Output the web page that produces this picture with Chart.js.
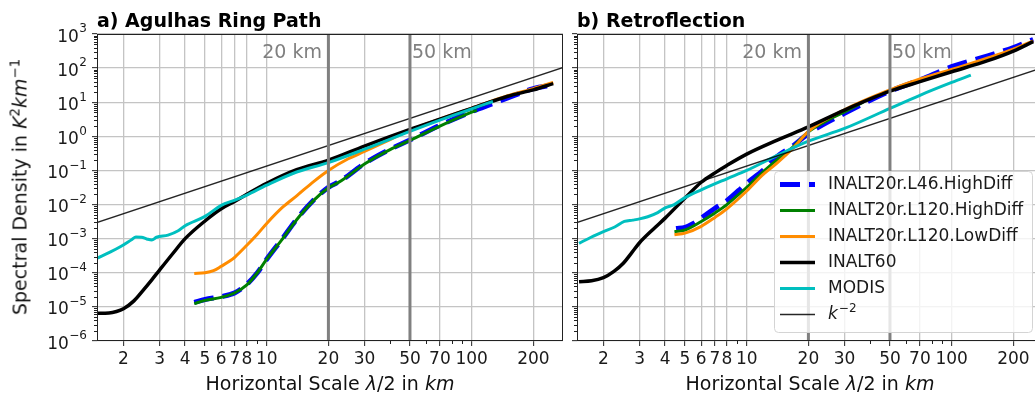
<!DOCTYPE html>
<html>
<head>
<meta charset="utf-8">
<script src="https://cdn.jsdelivr.net/npm/chart.js@4.4.1/dist/chart.umd.min.js"></script>
<style>
  html, body { margin: 0; padding: 0; width: 1035px; height: 398px; overflow: hidden; background: #fff; }
  body { position: relative; font-family: 'DejaVu Sans', sans-serif; color: #111; }
  canvas { position: absolute; top: 0; }
  .lbl { position: absolute; white-space: nowrap; font-size: 19px; line-height: 19px; }
  .title { font-weight: bold; color: #000; }
  .xl { transform: translateX(-50%); }
  .yl { left: 21px; top: 187px; transform: translate(-50%, -50%) rotate(-90deg); }
  .sp { font-size: 0.7em; position: relative; top: -0.55em; }
</style>
</head>
<body>
<canvas id="chartA" width="575" height="398" style="left:0"></canvas>
<canvas id="chartB" width="480" height="398" style="left:570px"></canvas>

<div class="lbl title" id="titleA">a) Agulhas Ring Path</div>
<div class="lbl title" id="titleB">b) Retroflection</div>
<div class="lbl xl" id="xlabA">Horizontal Scale <i>λ</i>/2 in <i>km</i></div>
<div class="lbl xl" id="xlabB">Horizontal Scale <i>λ</i>/2 in <i>km</i></div>
<div class="lbl yl">Spectral Density in <i>K</i><span class="sp">2</span><i>km</i><span class="sp">−1</span></div>

<script>
// axes
const xTicks = [2, 3, 4, 5, 6, 7, 8, 10, 20, 30, 50, 70, 100, 200];
const xMinor = [9, 40, 60, 80, 90];
const yExps = [-6, -5, -4, -3, -2, -1, 0, 1, 2, 3];
const markScales = [20, 50];
const markLabels = ['20 km', '50 km'];
const seriesNames = ['INALT20r.L46.HighDiff', 'INALT20r.L120.HighDiff', 'INALT20r.L120.LowDiff', 'INALT60', 'MODIS'];

// k^-2 reference line (same in both panels)
const refX = [1.4, 300];
const refY = [2.65e-3, 121];

// a) Agulhas Ring Path
const aL46X = [4.43, 5, 6, 7, 8, 9, 10, 12, 14, 17, 20, 23, 30, 40, 50, 70, 100, 127, 150, 200, 250];
const aL46Y = [1.35e-5, 1.65e-5, 2.0e-5, 2.6e-5, 4.6e-5, 1.0e-4, 2.5e-4, 1.05e-3, 3.7e-3, 0.0138, 0.032, 0.05, 0.16, 0.42, 0.78, 2.1, 5.3, 9.1, 13.3, 25, 32];
const aL120HX = [4.43, 5, 6, 7, 8, 9, 10, 12, 14, 17, 20, 23, 30, 40, 50, 70, 100, 106];
const aL120HY = [1.25e-5, 1.55e-5, 1.9e-5, 2.6e-5, 4.4e-5, 1.0e-4, 2.5e-4, 1.02e-3, 3.6e-3, 0.0135, 0.031, 0.049, 0.155, 0.41, 0.76, 2.0, 5.1, 5.8];
const aLowX = [4.43, 5, 5.5, 6, 6.6, 7, 8, 9, 10, 12, 14, 17, 20, 25, 30, 40, 50, 70, 100, 150, 200, 250];
const aLowY = [9.5e-5, 1.0e-4, 1.15e-4, 1.55e-4, 2.2e-4, 2.9e-4, 6.4e-4, 1.35e-3, 2.8e-3, 8.5e-3, 0.018, 0.048, 0.1, 0.22, 0.36, 0.8, 1.5, 3.2, 6.7, 15.5, 25, 38];
const aI60X = [1.49, 1.7, 1.85, 2, 2.25, 2.5, 2.75, 3, 3.5, 4, 5, 6, 7, 8, 10, 14, 20, 30, 50, 70, 100, 150, 200, 250];
const aI60Y = [6.5e-6, 6.6e-6, 7.3e-6, 8.8e-6, 1.5e-5, 3.1e-5, 6.2e-5, 1.2e-4, 3.8e-4, 1.0e-3, 3.3e-3, 7.5e-3, 0.0125, 0.02, 0.042, 0.105, 0.2, 0.52, 1.6, 3.2, 6.6, 15, 23, 35];
const aModX = [1.49, 1.73, 1.93, 2.2, 2.3, 2.45, 2.6, 2.75, 2.9, 3.3, 3.7, 4, 5, 6, 7, 8, 10, 14, 20, 30, 50, 70, 100, 127];
const aModY = [2.7e-4, 4.1e-4, 5.8e-4, 9.5e-4, 1.12e-3, 1.1e-3, 9.8e-4, 9.1e-4, 1.1e-3, 1.27e-3, 1.7e-3, 2.4e-3, 4.5e-3, 9.5e-3, 0.0135, 0.019, 0.037, 0.09, 0.17, 0.42, 1.4, 3.0, 6.4, 10.5];

// b) Retroflection
const bL46X = [4.52, 5, 5.5, 6, 7, 8, 10, 12, 14, 17, 20, 30, 50, 70, 100, 150, 200, 250];
const bL46Y = [2.0e-3, 2.15e-3, 2.8e-3, 4.0e-3, 7.8e-3, 0.013, 0.042, 0.1, 0.25, 0.55, 1.2, 4.7, 21, 45, 110, 230, 400, 690];
const bL120HX = [4.44, 5, 6, 7, 8, 10, 12, 14, 17, 20, 25, 30, 37];
const bL120HY = [1.6e-3, 1.8e-3, 3.2e-3, 5.7e-3, 0.01, 0.032, 0.09, 0.2, 0.52, 1.35, 3.0, 5.2, 10];
const bLowX = [4.44, 5, 6, 7, 8, 10, 12, 14, 17, 20, 30, 50, 70, 100, 150, 200, 250];
const bLowY = [1.3e-3, 1.45e-3, 2.3e-3, 4.2e-3, 7.5e-3, 0.025, 0.075, 0.16, 0.48, 1.4, 6.0, 23, 48, 91, 200, 360, 630];
const bI60X = [1.52, 1.75, 2, 2.25, 2.5, 2.75, 3, 3.5, 4, 5, 6, 7, 8, 10, 14, 20, 30, 50, 70, 100, 150, 200, 250];
const bI60Y = [5.5e-5, 5.8e-5, 7.2e-5, 1.1e-4, 1.9e-4, 3.9e-4, 7.6e-4, 1.9e-3, 4.0e-3, 0.0155, 0.045, 0.085, 0.14, 0.3, 0.76, 1.9, 5.9, 21, 40, 78, 165, 316, 600];
const bModX = [1.52, 1.74, 2, 2.27, 2.53, 2.78, 3, 3.29, 3.68, 4, 4.43, 5, 6, 8, 10, 14, 20, 30, 50, 70, 100, 124];
const bModY = [7.3e-4, 1.1e-3, 1.6e-3, 2.2e-3, 3.2e-3, 3.5e-3, 3.8e-3, 4.4e-3, 5.8e-3, 8.0e-3, 0.01, 0.016, 0.027, 0.057, 0.1, 0.27, 0.72, 1.7, 6.6, 16, 38, 62];

const FONT = 'DejaVu Sans';
const INK = '#1a1a1a';

function pts(xs, ys) {
  return xs.map((x, i) => ({ x: x, y: ys[i] }));
}

function series(label, xs, ys, color, width, order, dash) {
  return {
    label: label, data: pts(xs, ys), borderColor: color, borderWidth: width,
    borderDash: dash || [], order: order, fill: false, pointRadius: 0,
    cubicInterpolationMode: 'monotone'
  };
}

function buildDatasets(p) {
  const sets = [
    series(seriesNames[0], p.l46x, p.l46y, '#0000ff', 5, 7, [20, 9]),
    series(seriesNames[1], p.l120hx, p.l120hy, '#008000', 3, 6),
    series(seriesNames[2], p.lowx, p.lowy, '#ff8c00', 3, 5),
    series(seriesNames[3], p.i60x, p.i60y, '#000000', 3.5, 4),
    series(seriesNames[4], p.modx, p.mody, '#00bfbf', 3, 3),
    { label: 'k^-2', data: pts(refX, refY), borderColor: 'rgba(0,0,0,0.85)', borderWidth: 1.5, order: 2, tension: 0, pointRadius: 0 }
  ];
  markScales.forEach(v => {
    sets.push({ label: '', data: [{ x: v, y: 1e-7 }, { x: v, y: 1e4 }], borderColor: '#808080', borderWidth: 3, order: 1, tension: 0, pointRadius: 0 });
  });
  return sets;
}

// frame, minor ticks and the "20 km" / "50 km" marks
const framePlugin = {
  id: 'frame',
  afterDatasetsDraw(chart) {
    const { ctx, chartArea: a, scales: { x, y } } = chart;
    ctx.save();
    ctx.fillStyle = '#808080';
    ctx.font = '19px "' + FONT + '"';
    ctx.textBaseline = 'alphabetic';
    markScales.forEach((v, i) => {
      const px = x.getPixelForValue(v);
      if (i === 0) { ctx.textAlign = 'right'; ctx.fillText(markLabels[i], px - 6.5, 58); }
      else { ctx.textAlign = 'left'; ctx.fillText(markLabels[i], px + 2, 58); }
    });
    ctx.strokeStyle = '#222';
    ctx.lineWidth = 1;
    ctx.strokeRect(a.left + 0.5, a.top + 0.5, a.right - a.left - 1, a.bottom - a.top - 1);
    ctx.beginPath();
    xMinor.forEach(v => {
      const px = Math.round(x.getPixelForValue(v)) + 0.5;
      ctx.moveTo(px, a.bottom); ctx.lineTo(px, a.bottom + 3);
    });
    for (let e = -6; e < 3; e++) {
      for (let m = 2; m < 10; m++) {
        const py = Math.round(y.getPixelForValue(m * Math.pow(10, e))) + 0.5;
        ctx.moveTo(a.left, py); ctx.lineTo(a.left - 3, py);
      }
    }
    ctx.stroke();
    ctx.restore();
  }
};

// y tick labels as 10^n
const yLabelPlugin = {
  id: 'yLabels',
  afterDraw(chart) {
    const { ctx, chartArea: a, scales: { y } } = chart;
    const right = a.left - 10;
    ctx.save();
    ctx.fillStyle = INK;
    ctx.textAlign = 'right';
    ctx.textBaseline = 'alphabetic';
    yExps.forEach(e => {
      const py = y.getPixelForValue(Math.pow(10, e));
      const sup = e < 0 ? '\u2212' + (-e) : String(e);
      ctx.font = '12px "' + FONT + '"';
      const w = ctx.measureText(sup).width;
      ctx.fillText(sup, right, py - 1.7);
      ctx.font = '17px "' + FONT + '"';
      ctx.fillText('10', right - w - 0.5, py + 7.6);
    });
    ctx.restore();
  }
};

// legend box in panel b
const legendPlugin = {
  id: 'panelLegend',
  afterDraw(chart) {
    const { ctx, chartArea: a } = chart;
    const w = 258, h = 161;
    const x0 = a.right - 11 - w, y0 = a.bottom - 9 - h;
    ctx.save();
    ctx.beginPath();
    if (ctx.roundRect) ctx.roundRect(x0 + 0.5, y0 + 0.5, w, h, 4); else ctx.rect(x0 + 0.5, y0 + 0.5, w, h);
    ctx.fillStyle = 'rgba(255,255,255,0.8)';
    ctx.fill();
    ctx.strokeStyle = '#d4d4d4';
    ctx.lineWidth = 1;
    ctx.stroke();
    const rows = chart.data.datasets.slice(0, 6);
    rows.forEach((ds, i) => {
      const cy = y0 + 13.5 + i * 26;
      ctx.beginPath();
      ctx.setLineDash(ds.borderDash || []);
      ctx.strokeStyle = ds.borderColor;
      ctx.lineWidth = ds.borderWidth;
      ctx.moveTo(x0 + 6, cy); ctx.lineTo(x0 + 41, cy);
      ctx.stroke();
      ctx.setLineDash([]);
      ctx.fillStyle = INK;
      ctx.textAlign = 'left';
      ctx.textBaseline = 'middle';
      const tx = x0 + 54;
      if (i < 5) {
        ctx.font = '17px "' + FONT + '"';
        ctx.fillText(ds.label, tx, cy);
      } else {
        ctx.font = 'italic 17px "' + FONT + '"';
        ctx.fillText('k', tx, cy);
        const kw = ctx.measureText('k').width;
        ctx.font = '12px "' + FONT + '"';
        ctx.fillText('\u22122', tx + kw + 1, cy - 6);
      }
    });
    ctx.restore();
  }
};

function panelOptions(yWidth, padRight) {
  const grid = { color: '#c4c4c4', lineWidth: 1.3, tickLength: 5, tickColor: '#222', tickWidth: 1 };
  return {
    responsive: false,
    animation: false,
    devicePixelRatio: 1,
    layout: { padding: { top: 34, right: padRight, left: 0, bottom: 0 } },
    plugins: { legend: { display: false }, tooltip: { enabled: false } },
    scales: {
      x: {
        type: 'logarithmic', min: 1.486, max: 279,
        afterBuildTicks: s => { s.ticks = xTicks.map(v => ({ value: v })); },
        afterFit: s => { s.height = 57; },
        ticks: {
          autoSkip: false, maxRotation: 0, padding: 3, color: INK,
          font: { family: FONT, size: 17 },
          callback: v => String(v)
        },
        grid: grid,
        border: { display: false }
      },
      y: {
        type: 'logarithmic', min: 1e-6, max: 1e3,
        afterBuildTicks: s => { s.ticks = yExps.map(e => ({ value: Math.pow(10, e) })); },
        afterFit: s => { s.width = yWidth; },
        ticks: { display: false },
        grid: grid,
        border: { display: false }
      }
    }
  };
}

const chartA = new Chart(document.getElementById('chartA'), {
  type: 'line',
  data: { datasets: buildDatasets({
    l46x: aL46X, l46y: aL46Y, l120hx: aL120HX, l120hy: aL120HY, lowx: aLowX, lowy: aLowY,
    i60x: aI60X, i60y: aI60Y, modx: aModX, mody: aModY
  }) },
  options: panelOptions(97, 12),
  plugins: [framePlugin, yLabelPlugin]
});

const chartB = new Chart(document.getElementById('chartB'), {
  type: 'line',
  data: { datasets: buildDatasets({
    l46x: bL46X, l46y: bL46Y, l120hx: bL120HX, l120hy: bL120HY, lowx: bLowX, lowy: bLowY,
    i60x: bI60X, i60y: bI60Y, modx: bModX, mody: bModY
  }) },
  options: panelOptions(7, 7),
  plugins: [framePlugin, legendPlugin]
});

// place titles and axis labels against the chart areas
function placeText(chart, offset, titleId, xlabId) {
  const a = chart.chartArea;
  const t = document.getElementById(titleId);
  t.style.left = (offset + a.left) + 'px';
  t.style.top = '11px';
  const xl = document.getElementById(xlabId);
  xl.style.left = (offset + (a.left + a.right) / 2) + 'px';
  xl.style.top = '374px';
}
placeText(chartA, 0, 'titleA', 'xlabA');
placeText(chartB, 570, 'titleB', 'xlabB');
</script>
</body>
</html>
